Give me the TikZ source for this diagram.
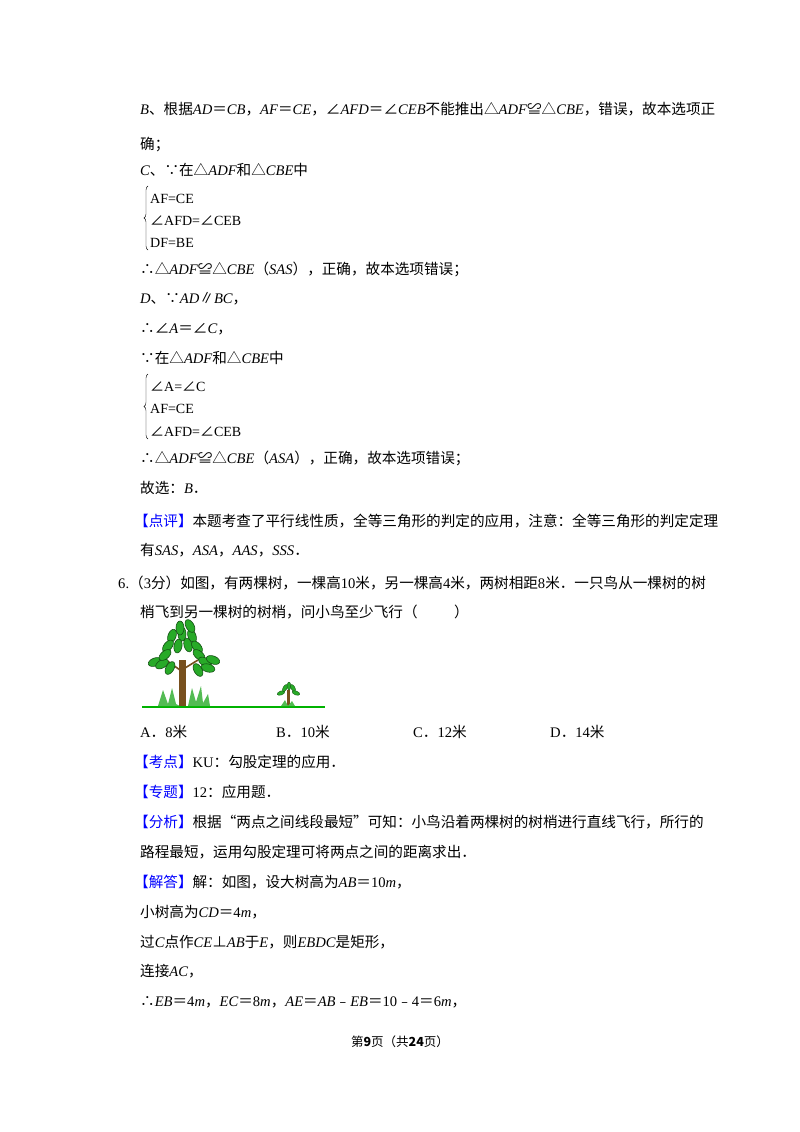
\documentclass[tikz,border=0pt]{standalone}
\usepackage{fontspec}
\setmainfont{Noto Sans CJK SC}
\newfontfamily\latf{Liberation Serif}
\usetikzlibrary{decorations.pathreplacing}
\newcommand\mi[1]{{\latf\itshape #1}}
\newcommand\mr[1]{{\latf #1}}
\newcommand\ang{{\rmfamily ∠}}
\newcommand\tag[1]{\textcolor{blue}{【#1】}}
\definecolor{leaf}{RGB}{40,170,40}
\definecolor{leafd}{RGB}{20,80,20}
\definecolor{bark}{RGB}{120,80,30}
\begin{document}
\begin{tikzpicture}[x=1pt,y=-1pt,
  txt/.style={anchor=base west,inner sep=0pt,font=\fontsize{14.6}{15}\selectfont},
  sm/.style={anchor=base west,inner sep=0pt,font=\latf\fontsize{14}{15}\selectfont}]
\useasboundingbox (0,0) rectangle (800,1132);
\fill[white] (0,0) rectangle (800,1132);
\node[txt] (l1) at (140,114) {\mi{B}、根据\mi{AD}＝\mi{CB}，\mi{AF}＝\mi{CE}，∠\mi{AFD}＝∠\mi{CEB}不能推出△\mi{ADF}≌△\mi{CBE}，错误，故本选项正};
\node[txt] (l2) at (140,149) {确；};
\node[txt] (l3) at (140,175) {\mi{C}、∵在△\mi{ADF}和△\mi{CBE}中};
\node[sm] (b1a) at (150,203) {AF=CE};
\node[sm] (b1b) at (150,225) {\ang AFD=\ang CEB};
\node[sm] (b1c) at (150,247) {DF=BE};
\draw[decorate,decoration={brace,amplitude=4pt}] (148,250) -- (148,186);
\node[txt] (l4) at (140,274) {∴△\mi{ADF}≌△\mi{CBE}（\mi{SAS}），正确，故本选项错误；};
\node[txt] (l5) at (140,303) {\mi{D}、∵\mi{AD}∥\mi{BC}，};
\node[txt] (l6) at (140,333) {∴∠\mi{A}＝∠\mi{C}，};
\node[txt] (l7) at (140,363) {∵在△\mi{ADF}和△\mi{CBE}中};
\node[sm] (b2a) at (150,391) {\ang A=\ang C};
\node[sm] (b2b) at (150,413) {AF=CE};
\node[sm] (b2c) at (150,436) {\ang AFD=\ang CEB};
\draw[decorate,decoration={brace,amplitude=4pt}] (148,439) -- (148,374);
\node[txt] (l8) at (140,463) {∴△\mi{ADF}≌△\mi{CBE}（\mi{ASA}），正确，故本选项错误；};
\node[txt] (l9) at (140,493) {故选：\mi{B}．};
\node[txt] (l10) at (134,526) {\tag{点评}本题考查了平行线性质，全等三角形的判定的应用，注意：全等三角形的判定定理};
\node[txt] (l11) at (140,555) {有\mi{SAS}，\mi{ASA}，\mi{AAS}，\mi{SSS}．};
\node[txt] (l12) at (118,588) {\mr{6.}（\mr{3}分）如图，有两棵树，一棵高\mr{10}米，另一棵高\mr{4}米，两树相距\mr{8}米．一只鸟从一棵树的树};
\node[txt] (l13) at (140,617) {梢飞到另一棵树的树梢，问小鸟至少飞行（\hspace{2.5em}）};
% tree picture
\draw[green!70!black,line width=1.5pt] (142,707) -- (325,707);
\fill[leaf!80] (158,706) -- (163,690) -- (168,704) -- (172,688) -- (176,704) -- (180,706) -- cycle;
\fill[leaf!80] (188,706) -- (192,688) -- (196,702) -- (201,686) -- (203,703) -- (208,694) -- (210,706) -- cycle;
\fill[bark] (179,660) rectangle (186,706);
\draw[bark,line width=1.6pt] (180,670) -- (166,660);
\draw[bark,line width=1.6pt] (185,668) -- (198,660);
\foreach \x/\y/\a in {172/636/-20,182/634/0,192/636/20,168/646/-40,178/646/-10,188/645/15,197/647/40,
   155/662/-70,162/664/-60,165/655/-50,199/655/50,205/662/60,213/660/70,208/668/75,
   170/668/-30,198/670/30,180/628/0,190/626/30}
  \filldraw[fill=leaf,draw=leafd,line width=0.6pt,rotate around={\a:(\x,\y)}] (\x,\y) ellipse (4pt and 7pt);
\fill[bark] (287,690) rectangle (289.5,706);
\foreach \x/\y/\a in {281/693/-70,285/688/-30,289/686/0,293/688/30,296/693/70}
  \filldraw[fill=leaf,draw=leafd,line width=0.3pt,rotate around={\a:(\x,\y)}] (\x,\y) ellipse (2pt and 4pt);
\fill[leaf!80] (281,706) -- (285,700) -- (288,706) -- (292,701) -- (295,706) -- cycle;
% options
\node[txt] (oA) at (140,737) {\mr{A}．\mr{8}米};
\node[txt] (oB) at (276,737) {\mr{B}．\mr{10}米};
\node[txt] (oC) at (413,737) {\mr{C}．\mr{12}米};
\node[txt] (oD) at (550,737) {\mr{D}．\mr{14}米};
\node[txt] (l14) at (134,767) {\tag{考点}\mr{KU}：勾股定理的应用．};
\node[txt] (l15) at (134,797) {\tag{专题}\mr{12}：应用题．};
\node[txt] (l16) at (134,827) {\tag{分析}根据“两点之间线段最短”可知：小鸟沿着两棵树的树梢进行直线飞行，所行的};
\node[txt] (l17) at (140,857) {路程最短，运用勾股定理可将两点之间的距离求出．};
\node[txt] (l18) at (134,887) {\tag{解答}解：如图，设大树高为\mi{AB}＝\mr{10}\mi{m}，};
\node[txt] (l19) at (140,917) {小树高为\mi{CD}＝\mr{4}\mi{m}，};
\node[txt] (l20) at (140,947) {过\mi{C}点作\mi{CE}⊥\mi{AB}于\mi{E}，则\mi{EBDC}是矩形，};
\node[txt] (l21) at (140,976) {连接\mi{AC}，};
\node[txt] (l22) at (140,1006) {∴\mi{EB}＝\mr{4}\mi{m}，\mi{EC}＝\mr{8}\mi{m}，\mi{AE}＝\mi{AB}﹣\mi{EB}＝\mr{10}﹣\mr{4}＝\mr{6}\mi{m}，};
\node[anchor=base,inner sep=0pt,font=\fontsize{12.5}{13}\selectfont] (ft) at (400,1046) {第\textbf{9}页（共\textbf{24}页）};
\end{tikzpicture}
\end{document}
